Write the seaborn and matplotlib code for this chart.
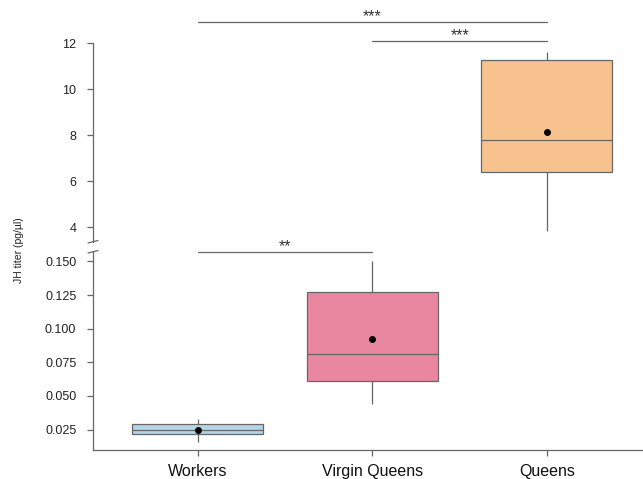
import numpy as np
import pandas as pd
import matplotlib
matplotlib.use("Agg")
import matplotlib.pyplot as plt
import seaborn as sns

#%% DATA (five-number summaries: min, Q1, median, Q3, max)
categories = ["Workers", "Virgin Queens", "Queens"]
workers = [0.0156, 0.0214, 0.0243, 0.0293, 0.0330]
virgin_queens = [0.0442, 0.0612, 0.0815, 0.1270, 0.1505]
queens = [3.83, 6.39, 7.78, 11.26, 11.60]
means = [0.0250, 0.0924, 8.13]
colors = ["#b3d5e8", "#e8879f", "#f8c28e"]
brackets = [("Workers", "Queens", "***"), ("Virgin Queens", "Queens", "***"),
            ("Workers", "Virgin Queens", "**")]
ylabel = "JH titer (pg/µl)"

df = pd.DataFrame({
    "group": np.repeat(categories, 5),
    "titer": workers + virgin_queens + queens,
})
df_mean = pd.DataFrame({"group": categories, "titer": means})

#%% STYLE
sns.set_style("white")
plt.rcParams["font.family"] = ["Liberation Sans", "DejaVu Sans"]
edge = "#666666"
W, H = 643, 479

fig = plt.figure(figsize=(W / 100, H / 100), dpi=100)
left = 93 / W
ax_top = fig.add_axes([left, 1 - 242 / H, 1 - left, (242 - 43) / H])
ax_bot = fig.add_axes([left, 1 - 450 / H, 1 - left, (450 - 252) / H])

for ax in (ax_top, ax_bot):
    ax.patch.set_alpha(0)
    sns.boxplot(data=df, x="group", y="titer", hue="group", order=categories,
                hue_order=categories, palette=colors, saturation=1, legend=False,
                whis=(0, 100), width=0.75, linecolor=edge, linewidth=0.9,
                showcaps=False, ax=ax)
    sns.stripplot(data=df_mean, x="group", y="titer", order=categories,
                  color="black", size=5, jitter=False, ax=ax, zorder=5)
    ax.set_xlabel("")
    ax.set_ylabel("")
    ax.set_xlim(-0.6, 2.55)
    for s in ("top", "right"):
        ax.spines[s].set_visible(False)
    ax.spines["left"].set_color(edge)
    ax.spines["left"].set_linewidth(0.9)
    ax.tick_params(axis="y", length=4, width=0.9, color=edge, labelsize=9,
                   labelcolor="#222222", pad=8, left=True)

# top panel (queens)
ax_top.set_ylim(3.35, 12)
ax_top.set_yticks([4, 6, 8, 10, 12])
ax_top.spines["bottom"].set_visible(False)
ax_top.tick_params(axis="x", bottom=False, labelbottom=False)

# bottom panel
ax_bot.set_ylim(0.0098, 0.157)
ax_bot.set_yticks([0.025, 0.050, 0.075, 0.100, 0.125, 0.150])
ax_bot.set_yticklabels([f"{v:.3f}" for v in ax_bot.get_yticks()])
ax_bot.spines["bottom"].set_color(edge)
ax_bot.spines["bottom"].set_linewidth(0.9)
ax_bot.tick_params(axis="x", bottom=True, length=4, width=0.9, color=edge,
                   labelsize=11.5, labelcolor="#111111", pad=6)

# axis break marks
bx = left * W
for yb in (243, 253):
    fig.add_artist(plt.Line2D([(bx - 5) / W, (bx + 5) / W],
                              [1 - yb / H, 1 - (yb - 2.5) / H],
                              color=edge, lw=0.9))

# significance brackets
bracket_px = [22, 41, 252]
trans = matplotlib.transforms.blended_transform_factory(ax_top.transData, fig.transFigure)
for (a, b, stars), ypx in zip(brackets, bracket_px):
    xa, xb = categories.index(a), categories.index(b)
    yf = 1 - ypx / H
    ax_top.plot([xa, xb], [yf, yf], color=edge, lw=0.9, transform=trans,
                clip_on=False, zorder=6)
    ax_top.text((xa + xb) / 2, 1 - (ypx - 5) / H, stars, ha="center", va="center",
                fontsize=11.5, color="#333333", transform=trans)

fig.text(19 / W, 1 - 250 / H, ylabel, rotation=90, ha="center", va="center",
         fontsize=7.5, color="#222222")

fig.savefig("out.png", dpi=100)
